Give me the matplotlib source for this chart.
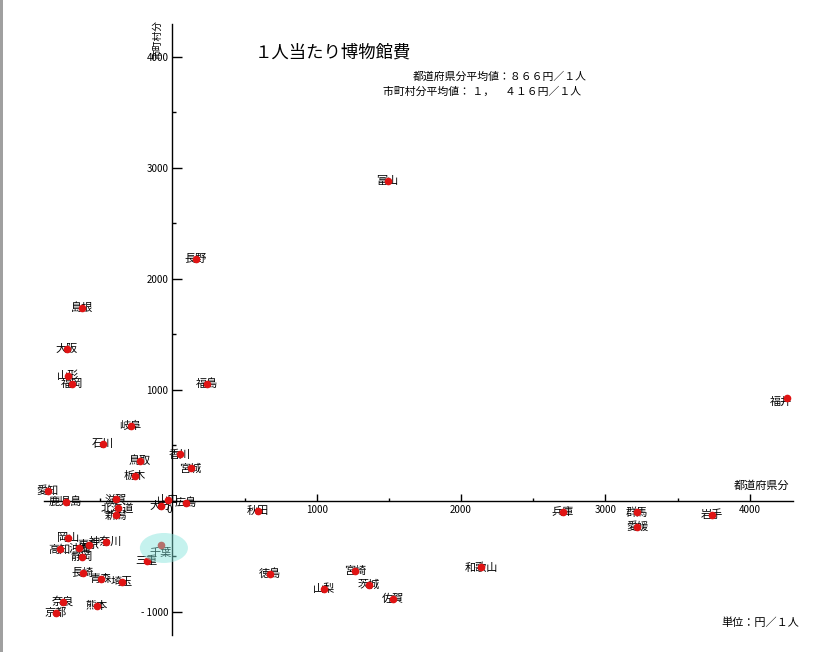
import matplotlib.pyplot as plt
from matplotlib.patches import Ellipse, Rectangle
from matplotlib.ticker import MultipleLocator, FixedLocator

plt.rcParams['font.family'] = ['Noto Sans CJK JP', 'DejaVu Sans']

# 都道府県名, 都道府県分 (x), 市町村分 (y)  単位：円／１人
names = ["北海道", "青森", "岩手", "宮城", "秋田", "山形", "福島", "茨城", "栃木", "群馬",
         "埼玉", "千葉", "東京", "神奈川", "新潟", "富山", "石川", "福井", "山梨", "長野",
         "岐阜", "静岡", "愛知", "三重", "滋賀", "京都", "大阪", "兵庫", "奈良", "和歌山",
         "鳥取", "島根", "岡山", "広島", "山口", "徳島", "香川", "愛媛", "高知", "福岡",
         "佐賀", "長崎", "熊本", "大分", "宮崎", "鹿児島", "沖縄"]
pref_x = [-380, -496, 3737, 126, 595, -726, 237, 1362, -260, 3217,
          -352, -80, -579, -463, -394, 1491, -484, 4256, 1050, 163,
          -290, -629, -865, -179, -394, -807, -733, 2704, -757, 2138,
          -225, -629, -722, 91, -29, 676, 52, 3221, -780, -699,
          1530, -622, -525, -82, 1265, -740, -646]
muni_y = [-68, -705, -129, 292, -90, 1123, 1054, -759, 222, -105,
          -735, -399, -399, -369, -129, 2880, 511, 928, -795, 2175,
          676, -505, 90, -541, 13, -1014, 1367, -99, -910, -600,
          358, 1739, -339, -18, 6, -660, 418, -234, -438, 1049,
          -886, -654, -949, -48, -633, -9, -429]

x_ticks = [0, 1000, 2000, 3000, 4000]
y_ticks = [-1000, 1000, 2000, 3000, 4000]
highlight = "千葉"

fig = plt.figure(figsize=(8.22, 6.52), dpi=100)
ax = fig.add_axes([0.0535, 0.0261, 0.9112, 0.9371])
ax.set_xlim(-890, 4300)
ax.set_ylim(-1210, 4295)

for s in ["top", "right"]:
    ax.spines[s].set_visible(False)
ax.spines["left"].set_position(("data", 0))
ax.spines["bottom"].set_position(("data", 0))
ax.spines["left"].set_linewidth(1.0)
ax.spines["bottom"].set_linewidth(1.0)

ax.xaxis.set_major_locator(FixedLocator(x_ticks))
ax.xaxis.set_minor_locator(MultipleLocator(500))
ax.yaxis.set_major_locator(FixedLocator(y_ticks))
ax.yaxis.set_minor_locator(MultipleLocator(500))
ax.set_xticklabels([str(v) for v in x_ticks])
ax.set_yticklabels([("- " + str(-v)) if v < 0 else str(v) for v in y_ticks])
ax.tick_params(axis="x", which="major", direction="in", length=5, width=1, pad=3, labelsize=7)
ax.tick_params(axis="x", which="minor", direction="in", length=2.5, width=1)
ax.tick_params(axis="y", which="major", direction="in", length=7, width=1, pad=3, labelsize=7)
ax.tick_params(axis="y", which="minor", direction="in", length=3, width=1)
ax.get_xticklabels()[0].set_ha("right")

for n, x, y in zip(names, pref_x, muni_y):
    if n == highlight:
        ax.annotate(n, (x, y), xytext=(0, -6), textcoords="offset points",
                    ha="center", va="center", fontsize=8, zorder=3)
    elif n == "福井":
        ax.annotate(n, (x, y), xytext=(-4, -3), textcoords="offset points",
                    ha="center", va="center", fontsize=8, zorder=3)
    else:
        ax.text(x, y, n, ha="center", va="center", fontsize=8, zorder=3)

ax.plot(pref_x, muni_y, "o", color="#e01414", markersize=5.5, markeredgewidth=0, zorder=4)

# 千葉の強調表示
i = names.index(highlight)
ax.add_patch(Ellipse((pref_x[i] + 21, muni_y[i] - 27), 333, 270,
                     facecolor="#7fe3da", edgecolor="none", alpha=0.45, zorder=5))

fig.text(0.310, 0.920, "１人当たり博物館費", fontsize=12.5, va="center")
fig.text(0.5024, 0.8819, "都道府県分平均値：８６６円／１人", fontsize=7.8, va="center")
fig.text(0.466, 0.8589, "市町村分平均値： １，　４１６円／１人", fontsize=7.8, va="center")
fig.text(0.192, 0.940, "市町村分", fontsize=7, rotation=90, ha="center", va="center")
fig.text(0.927, 0.2546, "都道府県分", fontsize=8, ha="center", va="center")
fig.text(0.9246, 0.0445, "単位：円／１人", fontsize=8, ha="center", va="center")

fig.add_artist(Rectangle((0, 0), 3 / 822, 1, transform=fig.transFigure,
                         facecolor="#a0a0a0", edgecolor="none"))

fig.savefig("out.png", dpi=100)
